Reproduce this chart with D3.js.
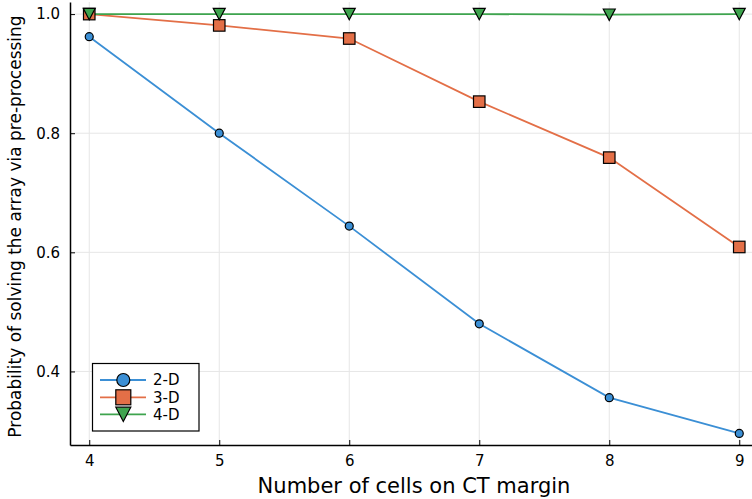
<!DOCTYPE html>
<html>
<head>
<meta charset="utf-8">
<script src="https://cdn.jsdelivr.net/npm/d3@7"></script>
<style>
  body { margin: 0; background: #fff; }
  svg { display: block; font-family: "DejaVu Sans", sans-serif; }
</style>
</head>
<body>
<svg id="chart" width="752" height="499"></svg>
<script>
const width = 752;
const height = 499;

// data
const cells = [4, 5, 6, 7, 8, 9];
const prob2D = [0.962, 0.800, 0.644, 0.480, 0.356, 0.296];
const prob3D = [1.0, 0.981, 0.959, 0.853, 0.759, 0.609];
const prob4D = [1.0, 1.0, 1.0, 1.0, 0.999, 1.0];
const seriesNames = ["2-D", "3-D", "4-D"];
const xTicks = [4, 5, 6, 7, 8, 9];
const yTicks = [0.4, 0.6, 0.8, 1.0];

const colors = ["#3b8fd5", "#e36f47", "#3ea44e"];
const shapes = ["circle", "square", "triangle"];

const plotLeft = 70, plotRight = 752, plotTop = 2, plotBottom = 445;

const x = d3.scaleLinear().domain([3.852, 9.098]).range([plotLeft, plotRight]);
const y = d3.scaleLinear().domain([0.2765, 1.0203]).range([plotBottom, plotTop]);

const svg = d3.select("#chart");

// grid
svg.append("g")
  .selectAll("line")
  .data(xTicks)
  .enter()
  .append("line")
  .attr("x1", d => x(d)).attr("x2", d => x(d))
  .attr("y1", plotTop).attr("y2", plotBottom)
  .attr("stroke", "#e6e6e6").attr("stroke-width", 1);

svg.append("g")
  .selectAll("line")
  .data(yTicks)
  .enter()
  .append("line")
  .attr("x1", plotLeft).attr("x2", plotRight)
  .attr("y1", d => y(d)).attr("y2", d => y(d))
  .attr("stroke", "#e6e6e6").attr("stroke-width", 1);

// axes (ticks point inward)
const xAxis = svg.append("g")
  .attr("transform", `translate(0,${plotBottom})`)
  .call(d3.axisBottom(x).tickValues(xTicks).tickFormat(d3.format("d")).tickSizeInner(-5).tickSizeOuter(0).tickPadding(10));
const yAxis = svg.append("g")
  .attr("transform", `translate(${plotLeft},0)`)
  .call(d3.axisLeft(y).tickValues(yTicks).tickFormat(d3.format(".1f")).tickSizeInner(-5).tickSizeOuter(0).tickPadding(10));

[xAxis, yAxis].forEach(a => {
  a.select(".domain").attr("stroke", "#000").attr("stroke-width", 1.5);
  a.selectAll(".tick line").attr("stroke", "#000").attr("stroke-width", 1);
  a.selectAll(".tick text")
    .attr("fill", "#000")
    .style("font-family", "DejaVu Sans")
    .style("font-size", "15px");
});

// axis titles
svg.append("text")
  .attr("x", 414)
  .attr("y", 493)
  .attr("text-anchor", "middle")
  .style("font-size", "21px")
  .text("Number of cells on CT margin");

svg.append("text")
  .attr("transform", `translate(21,${(plotTop + plotBottom) / 2 + 3}) rotate(-90)`)
  .attr("text-anchor", "middle")
  .style("font-size", "17px")
  .text("Probability of solving the array via pre-processing");

// markers
function drawMarker(g, shape, cx, cy, s, color) {
  if (shape === "circle") {
    g.append("circle").attr("cx", cx).attr("cy", cy).attr("r", s / 2)
      .attr("fill", color).attr("stroke", "#000").attr("stroke-width", 1.2);
  } else if (shape === "square") {
    g.append("rect").attr("x", cx - s / 2).attr("y", cy - s / 2)
      .attr("width", s).attr("height", s)
      .attr("fill", color).attr("stroke", "#000").attr("stroke-width", 1.2);
  } else {
    const h = s * 0.95;
    g.append("path")
      .attr("d", `M${cx - s / 2},${cy - h / 2} L${cx + s / 2},${cy - h / 2} L${cx},${cy + h / 2} Z`)
      .attr("fill", color).attr("stroke", "#000").attr("stroke-width", 1.2)
      .attr("stroke-linejoin", "miter");
  }
}

const allSeries = [prob2D, prob3D, prob4D];
const markerSize = [8, 11.5, 12];

const line = d3.line().x((d, i) => x(cells[i])).y(d => y(d));

allSeries.forEach((vals, k) => {
  svg.append("path")
    .datum(vals)
    .attr("fill", "none")
    .attr("stroke", colors[k])
    .attr("stroke-width", 1.8)
    .attr("d", line);
});
allSeries.forEach((vals, k) => {
  const g = svg.append("g");
  vals.forEach((v, i) => drawMarker(g, shapes[k], x(cells[i]), y(v), markerSize[k], colors[k]));
});

// legend
const legend = svg.append("g");
legend.append("rect")
  .attr("x", 92.5).attr("y", 363.5)
  .attr("width", 106.5).attr("height", 67.5)
  .attr("fill", "#fff").attr("stroke", "#000").attr("stroke-width", 1.2);

const rowY = [380, 397.3, 414.3];
const legendSize = [13, 15, 15];
seriesNames.forEach((name, k) => {
  legend.append("line")
    .attr("x1", 100).attr("x2", 146)
    .attr("y1", rowY[k]).attr("y2", rowY[k])
    .attr("stroke", colors[k]).attr("stroke-width", 1.8);
});
seriesNames.forEach((name, k) => {
  drawMarker(legend, shapes[k], 123.3, rowY[k], legendSize[k], colors[k]);
  legend.append("text")
    .attr("x", 153).attr("y", rowY[k])
    .attr("dy", "0.36em")
    .style("font-size", "15px")
    .text(name);
});
</script>
</body>
</html>
